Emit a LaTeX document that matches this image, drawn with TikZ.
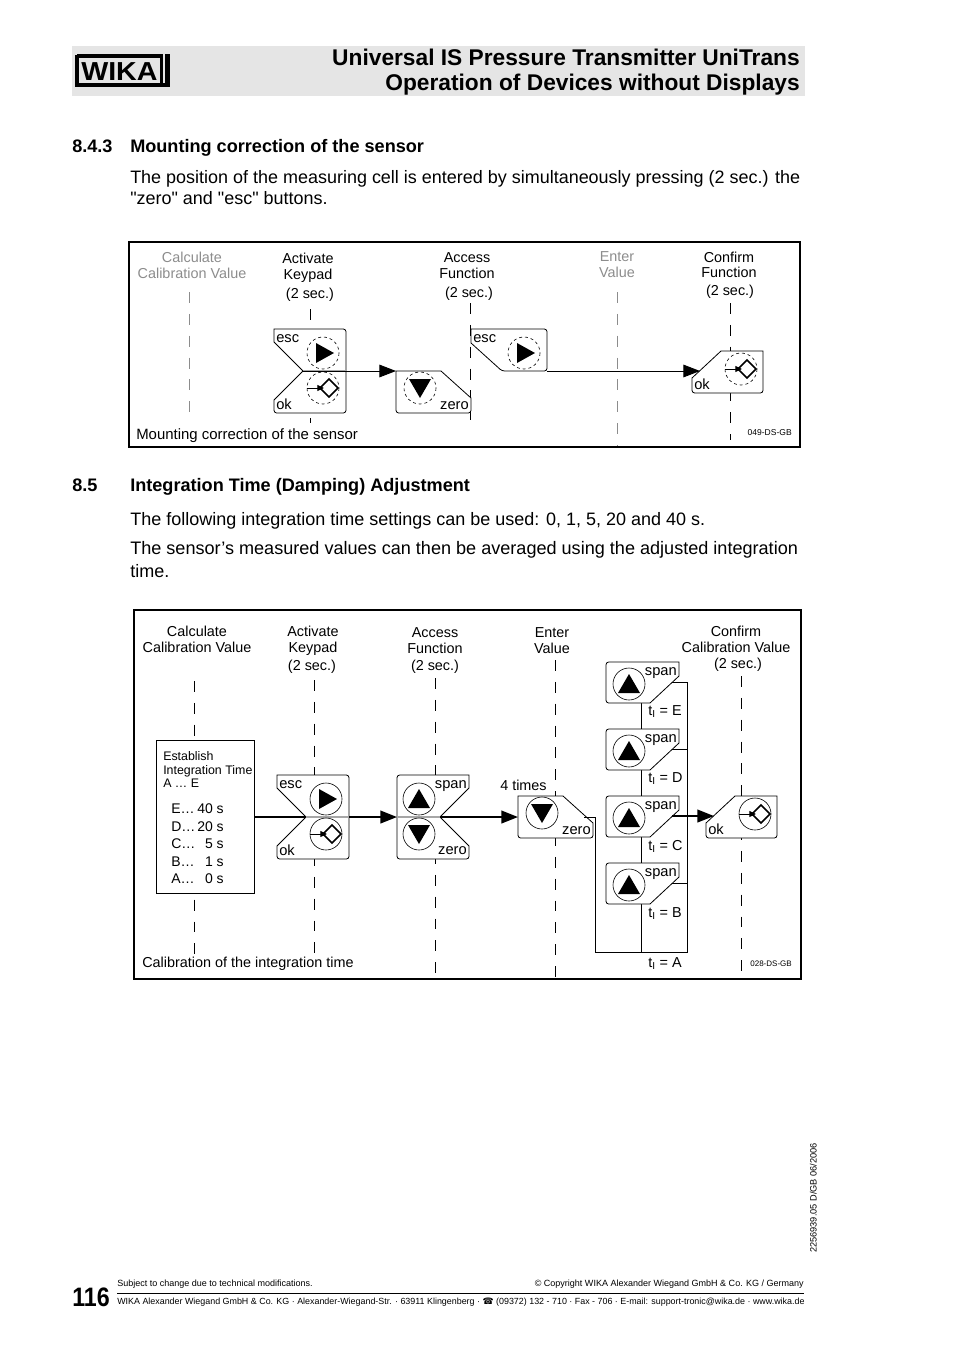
\documentclass[tikz,border=0pt]{standalone}
\usepackage{fontspec}
\setmainfont{Liberation Sans}[Ligatures=TeXOff]
\newfontfamily\symfont{DejaVu Sans}
\usepackage{xcolor}
\usetikzlibrary{arrows.meta,calc}
\definecolor{bandgray}{gray}{0.90}
\definecolor{fadegray}{gray}{0.55}
\newcommand{\fs}[1]{\fontsize{#1}{16}\selectfont}
\tikzset{
  txt/.style={inner sep=0pt,anchor=base west},
  txtr/.style={inner sep=0pt,anchor=base east},
  txtc/.style={inner sep=0pt,anchor=base},
  keyline/.style={draw=black,fill=white,line width=0.6pt},
  midline/.style={draw=gray!70,line width=1pt},
  keyring/.style={draw=black,line width=0.45pt},
  keylab/.style={inner sep=0pt,font=\fs{11}},
  column/.style={line width=0.7pt,dash pattern=on 8.2pt off 8.2pt},
  flow/.style={line width=0.7pt},
  flowb/.style={line width=1.5pt},
  tipb/.style={-{Triangle[length=12.5pt,width=9.5pt]}},
  frame/.style={line width=1.5pt},
  pics/ringright/.style={code={
    \draw[keyring] (0,0) circle (16);
    \fill (-7,-10) -- (11,0) -- (-7,10) -- cycle;
  }},
  pics/ringup/.style={code={
    \draw[keyring] (0,0) circle (16);
    \fill (-11,9) -- (11,9) -- (0,-10) -- cycle;
  }},
  pics/ringdown/.style={code={
    \draw[keyring] (0,0) circle (16);
    \fill (-11,-9) -- (11,-9) -- (0,10) -- cycle;
  }},
  pics/ringok/.style={code={
    \draw[keyring] (0,0) circle (16);
    \draw[line width=1.2pt] (6,-9) -- (15,0) -- (6,9) -- (-3,0) -- cycle;
    \draw[line width=0.7pt,-{Triangle[length=5pt,width=4.5pt]}] (-16,0) -- (1,0);
  }},
  % esc over ok, notch on the left
  pics/esckey/.style={code={
    \draw[keyline] (0,13) -- (0,0) [rounded corners=2pt] -- (72,0) -- (72,84)
      -- (0,84) [sharp corners] -- (0,71) -- (29,42) -- cycle;
    \draw[midline] (29,42) -- (72,42);
    \coordinate (-notch) at (29,42);
    \coordinate (-right) at (72,42);
    \pic at (49,24) {ringright};
    \pic at (49,59) {ringok};
    \node[keylab,anchor=base west] (-esc) at (2,13) {esc};
    \node[keylab,anchor=base west] (-ok) at (2,80) {ok};
  }},
  % span over zero, notch on the right
  pics/spankey/.style={code={
    \draw[keyline] (72,13) -- (72,0) [rounded corners=2pt] -- (0,0) -- (0,84)
      -- (72,84) [sharp corners] -- (72,71) -- (43,42) -- cycle;
    \draw[midline] (0,42) -- (43,42);
    \coordinate (-left) at (0,42);
    \coordinate (-notch) at (43,42);
    \pic at (22,24) {ringup};
    \pic at (22,59) {ringdown};
    \node[keylab,anchor=base east] (-span) at (70,13) {span};
    \node[keylab,anchor=base east] (-zero) at (70,79) {zero};
  }},
  pics/onlyesc/.style={code={
    \draw[keyline] (0,14) -- (0,0) [rounded corners=2pt] -- (76,0) -- (76,42)
      -- (31,42) [sharp corners] -- cycle;
    \coordinate (-right) at (76,42);
    \pic at (53,24) {ringright};
    \node[keylab,anchor=base west] (-esc) at (2,13) {esc};
  }},
  pics/onlyzero/.style={code={
    \draw[keyline] (45,0) -- (0,0) [rounded corners=2pt] -- (0,42) -- (75,42) [sharp corners]
      -- (75,27) -- cycle;
    \coordinate (-left) at (0,0);
    \coordinate (-diag) at (66,21);
    \pic at (24,17) {ringdown};
    \node[keylab,anchor=base east] (-zero) at (73,38) {zero};
  }},
  pics/onlyok/.style={code={
    \draw[keyline] (29,0) -- (71,0) [rounded corners=2pt] -- (71,42) -- (0,42) [sharp corners]
      -- (0,27) -- cycle;
    \coordinate (-diag) at (8,20);
    \pic at (49,18) {ringok};
    \node[keylab,anchor=base west] (-ok) at (2,38) {ok};
  }},
  pics/onlyspan/.style={code={
    \draw[keyline] (73,14) -- (73,0) [rounded corners=2pt] -- (0,0) -- (0,41) [sharp corners]
      -- (44,41) -- cycle;
    \coordinate (-diag) at (66,20);
    \coordinate (-low) at (35,41);
    \pic at (23,22) {ringup};
    \node[keylab,anchor=base east] (-span) at (71,13) {span};
  }},
}
\begin{document}
\begin{tikzpicture}[x=0.75pt,y=-0.75pt]
  \useasboundingbox (0,0) rectangle (954,1349);
  % header
  \fill[bandgray] (72,46) rectangle (805,96);
  \draw[line width=3pt] (77,56) -- (163,56) (77,85) -- (170,85) (77,55) -- (77,87);
  \draw[line width=2pt] (161.5,56) -- (161.5,85);
  \draw[line width=3.5pt] (167.5,54) -- (167.5,87);
  \node[txt,font=\fs{19.5}\bfseries] (logo) at (81,80) {\scalebox{1.1}[1]{WIKA}};
  \node[txtr,font=\fs{17.05}\bfseries] (titlea) at (800,65) {Universal IS Pressure Transmitter UniTrans};
  \node[txtr,font=\fs{17.05}\bfseries] (titleb) at (800,90) {Operation of Devices without Displays};
  % running text
  \node[txt,font=\fs{13.58}\bfseries] (hda) at (72,152) {8.4.3};
  \node[txt,font=\fs{13.58}\bfseries] (hdb) at (130,152) {Mounting correction of the sensor};
  \node[txt,font=\fs{13.48}] (para) at (130,183) {The position of the measuring cell is entered by simultaneously pressing (2 sec.) the};
  \node[txt,font=\fs{13.48}] (parb) at (130,204) {"zero" and "esc" buttons.};
  \node[txt,font=\fs{13.58}\bfseries] (hdc) at (72,491) {8.5};
  \node[txt,font=\fs{13.58}\bfseries] (hdd) at (130,491) {Integration Time (Damping) Adjustment};
  \node[txt,font=\fs{13.5}] (parc) at (130,525) {The following integration time settings can be used: 0, 1, 5, 20 and 40 s.};
  \node[txt,font=\fs{13.56}] (pard) at (130,554) {The sensor’s measured values can then be averaged using the adjusted integration};
  \node[txt,font=\fs{13.5}] (pare) at (130,577) {time.};

  % first diagram
  \begin{scope}[keyring/.append style={dash pattern=on 2.2pt off 2.2pt}]
    \draw[frame] (129,242) rectangle (800,447);
    \draw[column,fadegray] (189,292) -- (189,423);
    \draw[column] (310,309) -- (310,423);
    \draw[column] (470,303) -- (470,420);
    \draw[column,fadegray] (617,292) -- (617,446);
    \draw[column] (730,303) -- (730,440);
    \pic (ka) at (274,329) {esckey};
    \pic (kb) at (396,371) {onlyzero};
    \pic (kc) at (471,329) {onlyesc};
    \pic (kd) at (692,351) {onlyok};
    \draw[flow,tipb] (ka-notch) -- (kb-left);
    \draw[flow,tipb] (kc-right) -- (kd-diag);
    \foreach \nm/\xx/\yy/\lab/\col in {
      ca/192/262/Calculate/fadegray,cb/192/278/Calibration Value/fadegray,
      cc/308/263/Activate/black,cd/308/279/Keypad/black,ce/310/298/(2 sec.)/black,
      cf/467/262/Access/black,cg/467/278/Function/black,ch/469/297/(2 sec.)/black,
      ci/617/261/Enter/fadegray,cj/617/277/Value/fadegray,
      ck/729/262/Confirm/black,cl/729/277/Function/black,cm/730/295/(2 sec.)/black}
      \node[txtc,font=\fs{10.8},text=\col] (\nm) at (\xx,\yy) {\lab};
    \node[txt,font=\fs{11.2}] (cn) at (136,439) {Mounting correction of the sensor};
    \node[txtr,font=\fs{6.4}] (co) at (792,435) {049-DS-GB};
  \end{scope}

  % second diagram
  \draw[frame] (134,610) rectangle (801,979);
  \draw[column] (194,681) -- (194,955);
  \draw[column] (314,680) -- (314,955);
  \draw[column] (435,678) -- (435,978);
  \draw[column] (555,660) -- (555,978);
  \draw[column] (741,676) -- (741,976);
  \node[draw,fill=white,line width=0.6pt,minimum width=73.5pt,minimum height=114.75pt,inner sep=0pt,anchor=north west] (setbox) at (156,740) {};
  \node[txt,font=\fs{9.3}] (ba) at (163,760) {Establish};
  \node[txt,font=\fs{9.3}] (bb) at (163,774) {Integration Time};
  \node[txt,font=\fs{9.3}] (bc) at (163,787) {A … E};
  \foreach \lft/\rgt/\yy in {E…/40 s/813,D…/20 s/831,C…/5 s/848,B…/1 s/866,A…/0 s/883} {
    \node[txt,font=\fs{10.5}] (rl\yy) at (171,\yy) {\lft};
    \node[txtr,font=\fs{10.5}] (rr\yy) at (224,\yy) {\rgt};
  }
  \coordinate (ne) at (687,682);
  \coordinate (sw) at (595,952);
  \draw[flow] (641,703) -- (641,952);
  \draw[flow] (sw) -- (sw -| ne) -- (ne);
  \pic (ma) at (277,775) {esckey};
  \pic (mb) at (397,775) {spankey};
  \pic (mc) at (518,796) {onlyzero};
  \pic (md) at (606,662) {onlyspan};
  \pic (me) at (606,729) {onlyspan};
  \pic (mf) at (606,796) {onlyspan};
  \pic (mg) at (606,863) {onlyspan};
  \pic (mh) at (706,796) {onlyok};
  \draw[flowb] (setbox.east |- ma-notch) -- (ma-notch);
  \draw[flowb,tipb] (ma-right) -- (mb-left);
  \draw[flowb,tipb] (mb-notch) -- (mc-left |- mb-notch);
  \draw[flow] (mc-diag) -- (sw |- mc-diag) -- (sw);
  \draw[flow] (md-diag) -- (md-diag -| ne);
  \draw[flow] (me-diag) -- (me-diag -| ne);
  \draw[flow] (mg-diag) -- (mg-diag -| ne);
  \draw[flowb,tipb] (mf-diag) -- (mh-diag |- mf-diag);
  \foreach \nm/\xx/\yy/\lab in {
    da/197/636/Calculate,db/197/652/Calibration Value,
    dc/313/636/Activate,dd/313/652/Keypad,de/312/670/(2 sec.),
    df/435/637/Access,dg/435/653/Function,dh/435/670/(2 sec.),
    di/552/637/Enter,dj/552/653/Value,
    dk/736/636/Confirm,dl/736/652/Calibration Value,dm/738/668/(2 sec.)}
    \node[txtc,font=\fs{10.8}] (\nm) at (\xx,\yy) {\lab};
  \node[txt,font=\fs{10.8}] (dn) at (500,790) {4 times};
  \foreach \nm/\yy/\lab in {te/715/E,td/782/D,tc/850/C,tb/917/B,ta/967/A}
    \node[txt,font=\fs{10.8}] (\nm) at (648,\yy) {t$_{\mathrm{I}}$ = \lab};
  \node[txt,font=\fs{10.8}] (dp) at (142,967) {Calibration of the integration time};
  \node[txtr,font=\fs{6}] (dq) at (792,966) {028-DS-GB};

  % footer
  \node[txt,font=\fs{6.76}] (fa) at (117,1286) {Subject to change due to technical modifications.};
  \node[txtr,font=\fs{6.76}] (fb) at (804,1286) {© Copyright WIKA Alexander Wiegand GmbH \& Co. KG / Germany};
  \draw[line width=0.75pt] (117,1293) -- (804,1293);
  \node[txt,font=\fs{6.68}] (fc) at (117,1304) {WIKA Alexander Wiegand GmbH \& Co. KG · Alexander-Wiegand-Str. · 63911 Klingenberg · {\symfont ☎} (09372) 132 - 710 · Fax - 706 · E-mail: support-tronic@wika.de · www.wika.de};
  \node[txt,font=\fs{20}\bfseries] (pg) at (72,1306) {\scalebox{0.87}[1]{116}};
  \node[txt,font=\fs{6.9},rotate=90] (fd) at (816.5,1253) {2256939.05 D/GB 06/2006};
\end{tikzpicture}
\end{document}
